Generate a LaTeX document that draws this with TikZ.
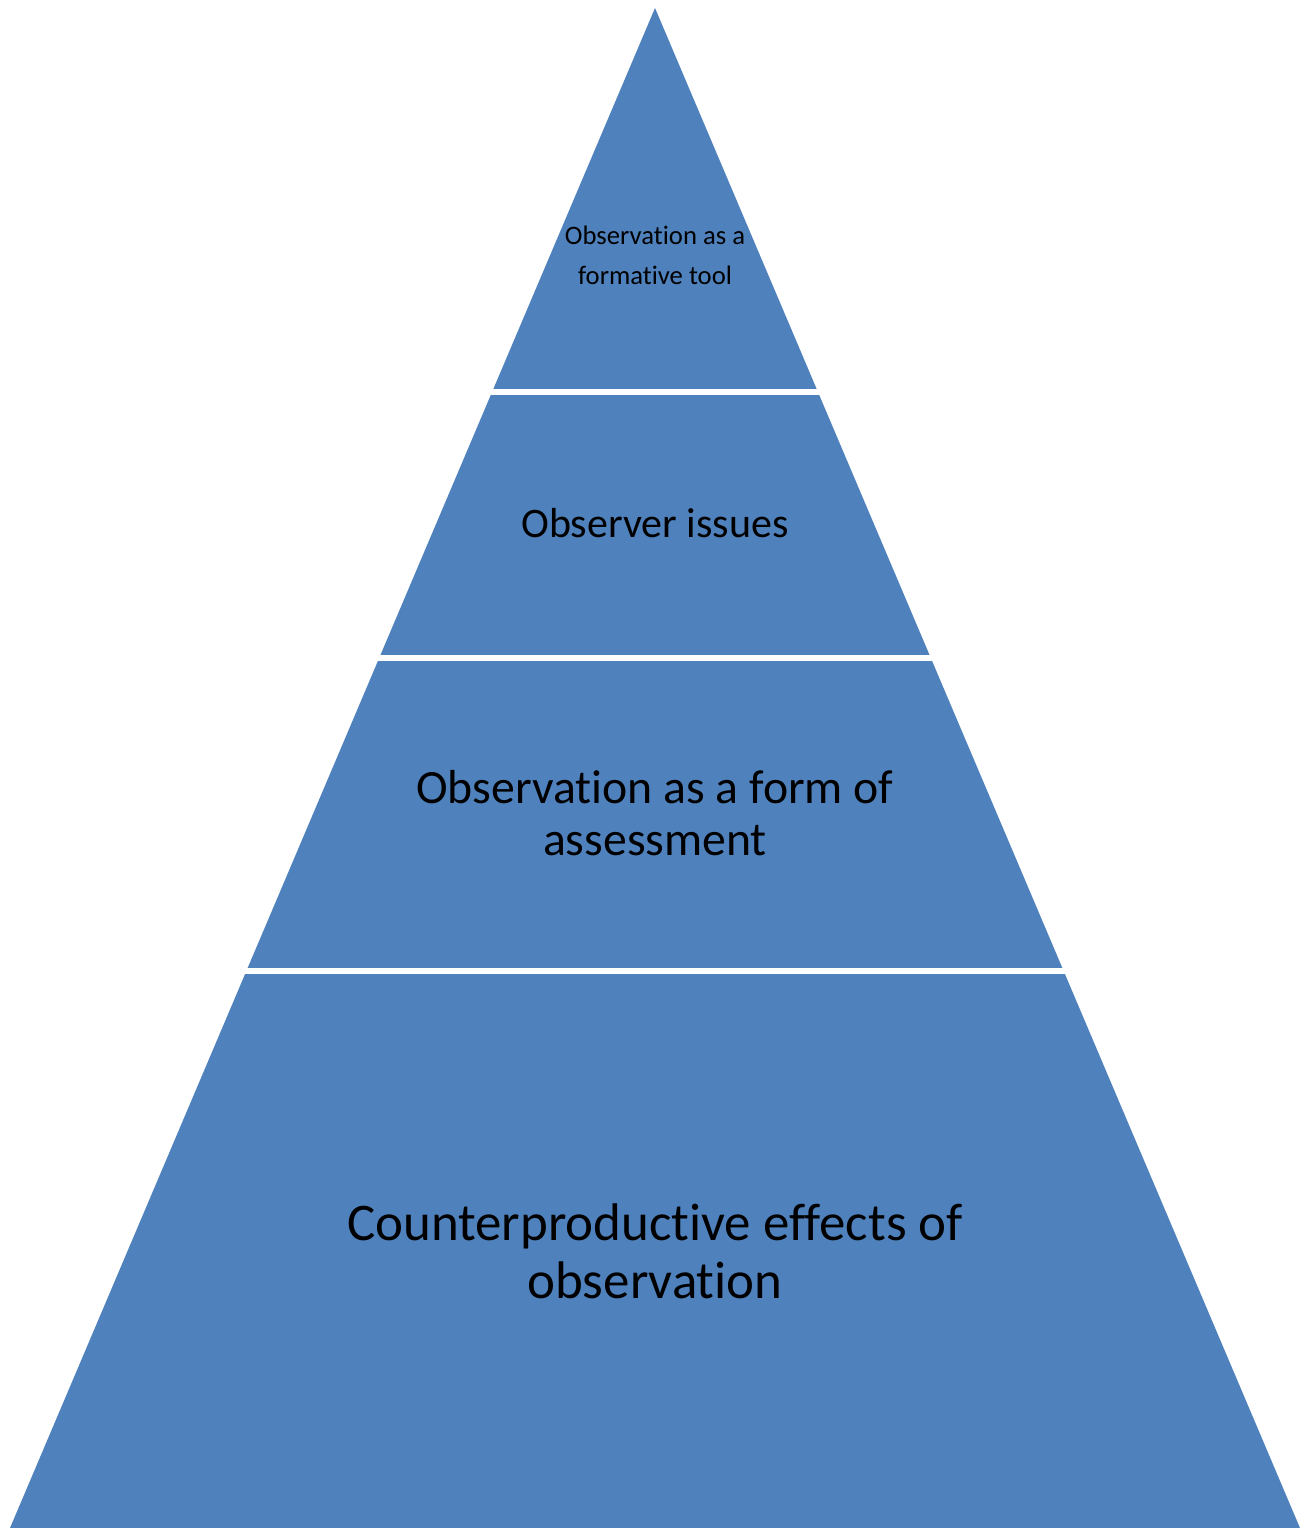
\documentclass[tikz,border=0pt]{standalone}
\usepackage{fontspec}
\setmainfont{Carlito}[Ligatures=NoCommon]
\definecolor{pyrblue}{HTML}{4F81BD}
\begin{document}
\begin{tikzpicture}[x=0.75pt,y=-0.75pt,
  gapline/.style={draw=white,line width=4.5pt},
  lbl/.style={align=center,text=black,inner sep=0pt,anchor=base}]
\useasboundingbox (0,0) rectangle (1309,1528);
\fill[pyrblue] (655,8) -- (1300,1528) -- (10,1528) -- cycle;
\coordinate (g1l) at (400,392);  \coordinate (g1r) at (910,392);
\coordinate (g2l) at (300,658);  \coordinate (g2r) at (1010,658);
\coordinate (g3l) at (200,971);  \coordinate (g3r) at (1110,971);
\draw[gapline] (g1l) -- (g1r);
\draw[gapline] (g2l) -- (g2r);
\draw[gapline] (g3l) -- (g3r);
% anchor=base of a multi-line node is the last line's baseline
\node[lbl,font=\fontsize{20pt}{29.3pt}\selectfont] (t1) at (655,284) {Observation as a\\formative tool};
\node[lbl,font=\fontsize{31.5pt}{38pt}\selectfont] (t2) at (655,537) {Observer issues};
\node[lbl,font=\fontsize{35.8pt}{38.5pt}\selectfont] (t3) at (655,855) {Observation as a form of\\assessment};
\node[lbl,font=\fontsize{39.7pt}{43.5pt}\selectfont] (t4) at (655,1298) {Counterproductive effects of\\observation};
\end{tikzpicture}
\end{document}
